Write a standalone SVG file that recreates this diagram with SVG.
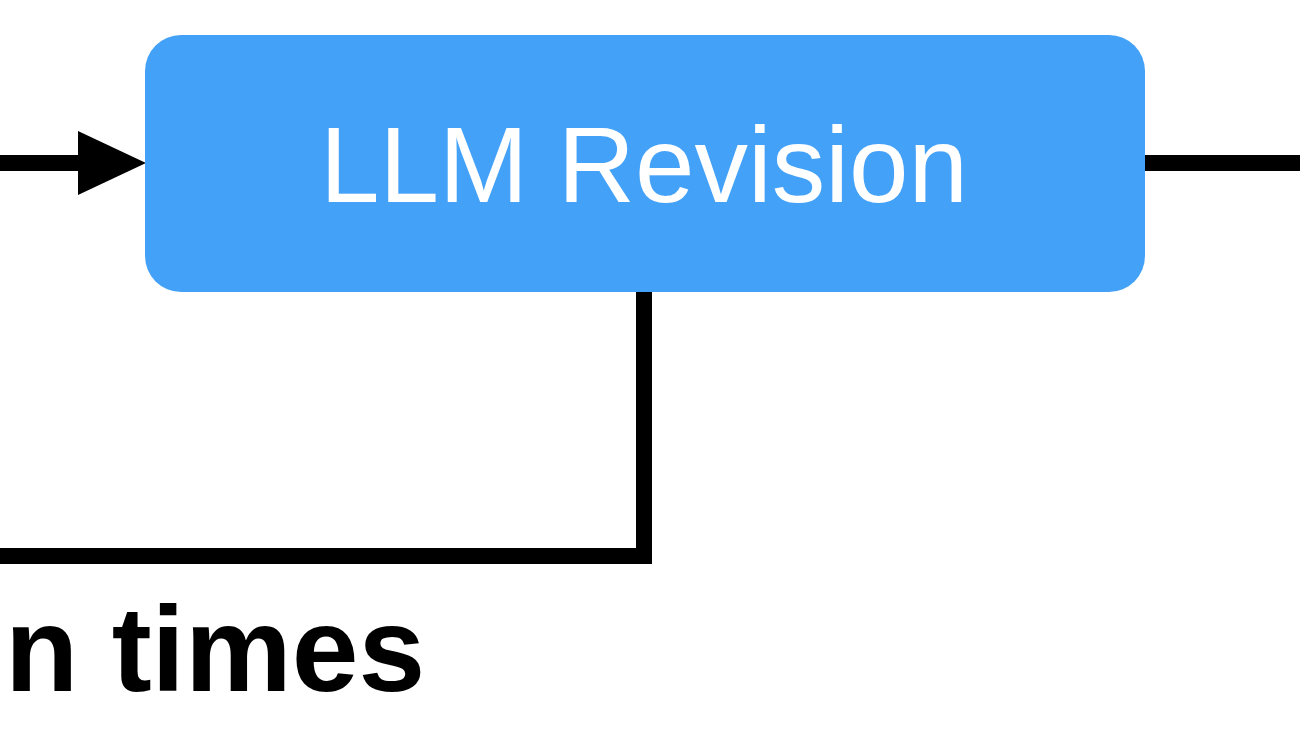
<svg xmlns="http://www.w3.org/2000/svg" width="1300" height="731" viewBox="0 0 1300 731">
<style>
.conn{fill:none;stroke:#000;stroke-width:16;stroke-linejoin:miter;stroke-linecap:butt}
.node{fill:#44a1f8}
.nlabel{font-family:"Liberation Sans",Arial,sans-serif;font-size:107px;fill:#fff;text-anchor:middle}
.elabel{font-family:"Liberation Sans",Arial,sans-serif;font-size:120px;font-weight:bold;fill:#000}
</style>
<rect width="1300" height="731" fill="#fff"/>
<g id="connectors">
<path class="conn" d="M0,163 L80,163"/>
<path d="M78,131 L146,163 L78,195 Z" fill="#000"/>
<path class="conn" d="M1144,163 L1300,163"/>
<path class="conn" d="M644,280 L644,556 L0,556"/>
</g>
<g id="llm-revision">
<rect class="node" x="145" y="35" width="1000" height="257" rx="36" ry="36"/>
<text class="nlabel" x="644" y="202">LLM Revision</text>
</g>
<g id="loop-label">
<text class="elabel" x="5" y="691">n times</text>
</g>
</svg>
